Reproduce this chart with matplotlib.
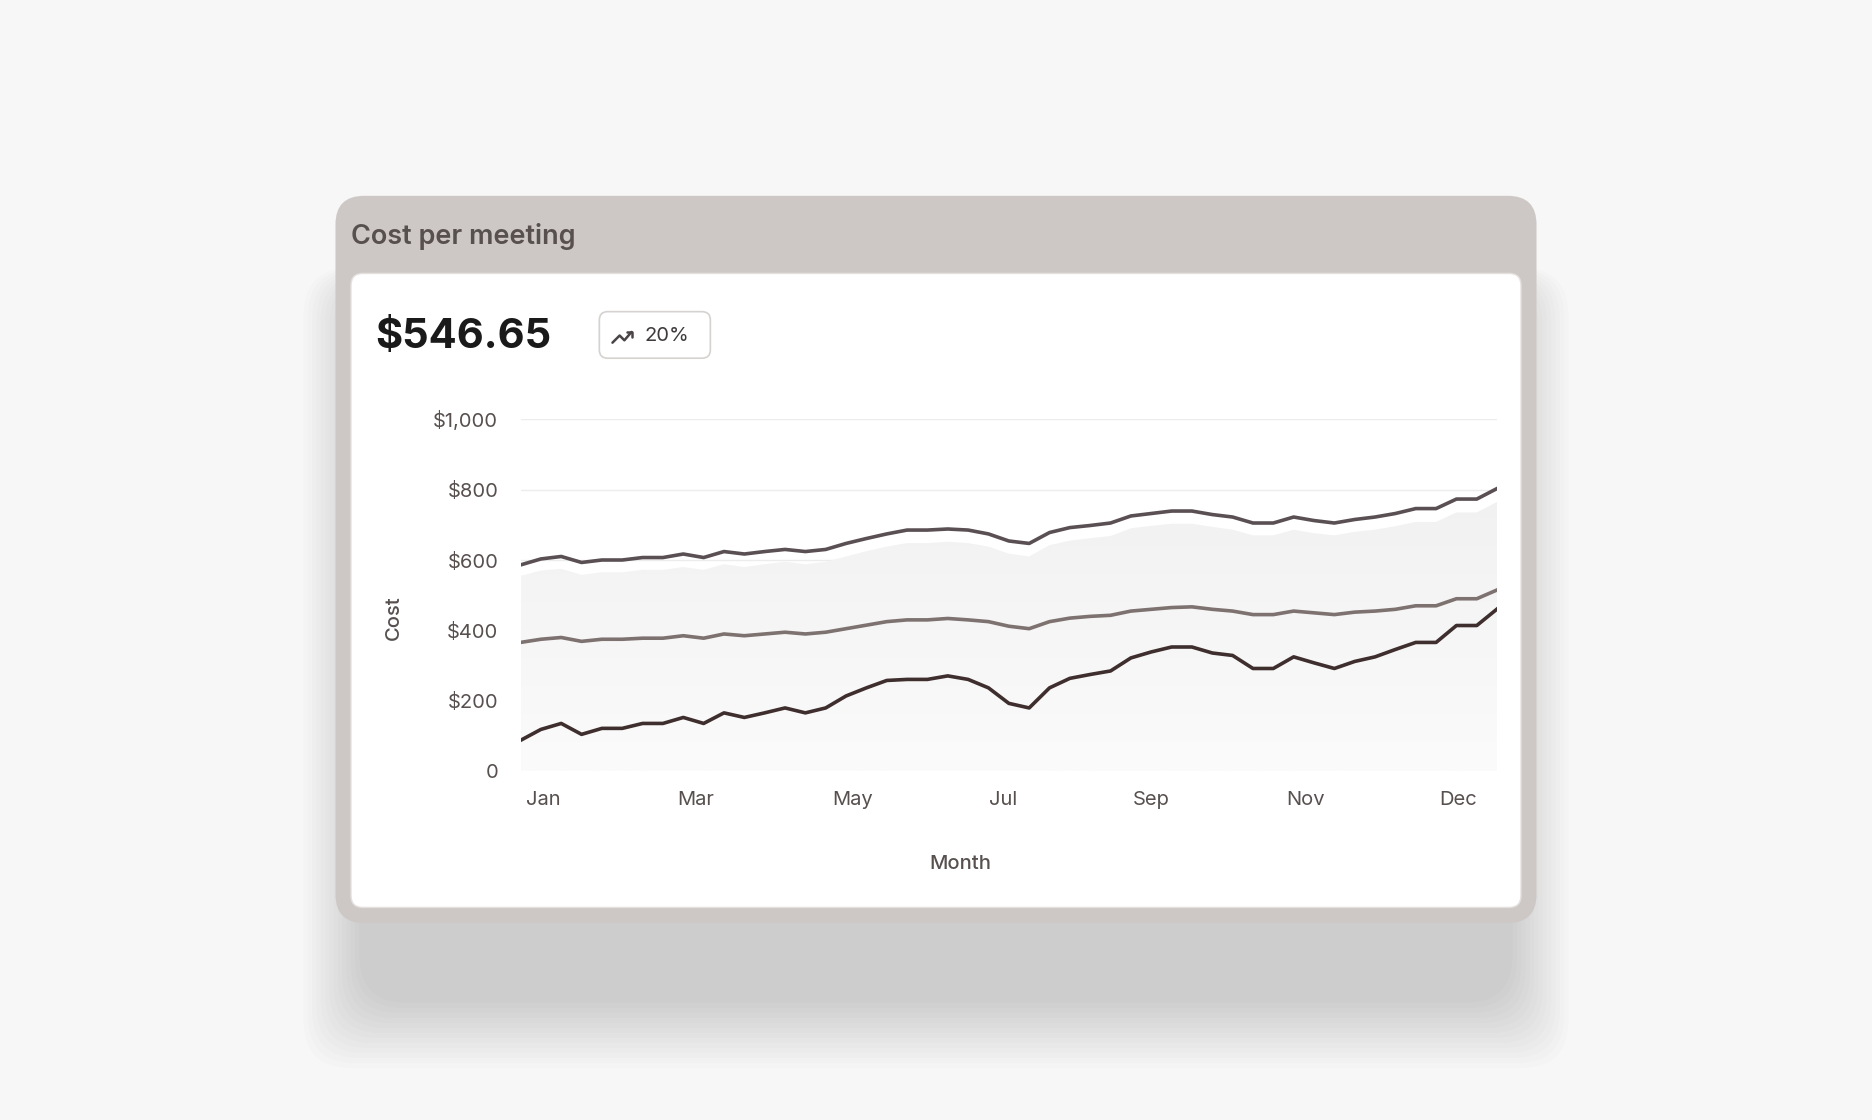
import matplotlib
matplotlib.use("Agg")
import matplotlib.pyplot as plt
import numpy as np
from matplotlib.patches import FancyBboxPatch

plt.rcParams['font.family'] = ['Inter', 'DejaVu Sans']

upper = [586,603,610,593,600,600,607,607,617,607,624,617,624,630,624,630,647,661,674,685,685,688,685,674,654,647,678,692,698,705,725,732,739,739,729,722,705,705,722,712,705,715,722,732,746,746,773,773,803]
middle = [366,375,380,369,375,375,378,378,385,378,390,385,390,395,390,395,405,415,425,430,430,434,430,425,412,405,425,435,440,443,455,460,465,467,460,455,445,445,455,450,445,452,455,460,470,470,490,490,515]
lower = [88,119,136,105,122,122,136,136,153,136,166,153,166,180,166,180,214,237,258,261,261,271,261,237,193,180,237,264,275,285,322,339,353,353,336,329,292,292,325,308,292,312,325,346,366,366,414,414,461]
band = [555,570,575,558,565,565,572,572,580,572,588,580,588,595,588,595,610,625,638,648,648,652,648,638,618,610,642,655,662,668,690,697,703,703,694,686,670,670,686,676,670,680,686,696,708,708,735,735,765]
month_labels = ["Jan", "Mar", "May", "Jul", "Sep", "Nov", "Dec"]
month_pos = [1.1, 8.6, 16.3, 23.7, 31.0, 38.6, 46.1]
y_ticks = [0, 200, 400, 600, 800, 1000]
y_labels = ["0", "$200", "$400", "$600", "$800", "$1,000"]

W, H = 1568, 938
fig = plt.figure(figsize=(18.72, 11.2), dpi=100)
fig.patch.set_facecolor('#f7f7f7')
bg = fig.add_axes([0, 0, 1, 1])
bg.set_xlim(0, W); bg.set_ylim(H, 0); bg.axis('off')

# shadow
for i in range(14):
    g = i * 6
    bg.add_patch(FancyBboxPatch((281 - g*0.6 + 20, 200 - g*0.2 + 40), 1006 + g*1.2 - 40, 600 + g*0.9,
                 boxstyle="round,pad=0,rounding_size=40", fc='#000000', ec='none', alpha=0.012, zorder=0))
bg.add_patch(FancyBboxPatch((281, 164), 1006, 609, boxstyle="round,pad=0,rounding_size=24",
             fc='#cdc8c5', ec='none', zorder=1))
bg.add_patch(FancyBboxPatch((294, 229), 980, 531, boxstyle="round,pad=0,rounding_size=10",
             fc='white', ec='#e4e0de', lw=1, zorder=2))
bg.text(294, 198, "Cost per meeting", fontsize=19.5, fontweight='semibold', color='#57504f', va='center', zorder=3)
bg.text(314, 282, "$546.65", fontsize=30, fontweight='bold', color='#1a1a1a', va='center', zorder=3)
bg.add_patch(FancyBboxPatch((502, 261), 93, 39, boxstyle="round,pad=0,rounding_size=7",
             fc='white', ec='#d6d2d0', lw=1.2, zorder=3))
bg.plot([513, 519, 523, 529], [287, 281, 285, 278], color='#4a4446', lw=1.8, zorder=4, solid_capstyle='round')
bg.plot([525, 529, 529], [278, 278, 282], color='#4a4446', lw=1.8, zorder=4, solid_capstyle='round')
bg.text(540, 281, "20%", fontsize=14.5, color='#3f3a3b', va='center', zorder=4)

ax = fig.add_axes([436/W, 1-646/H, (1254-436)/W, (646-351)/H])
ax.set_zorder(5)
ax.patch.set_alpha(0)
x = np.arange(len(upper))
ax.set_xlim(0, len(upper)-1)
ax.set_ylim(0, 1000)
# gradient fill under band
grad = np.linspace(0, 1, 256).reshape(-1, 1)
from matplotlib.colors import LinearSegmentedColormap
cm = LinearSegmentedColormap.from_list('g', ['#fbfbfb', '#f1f1f1'])
im = ax.imshow(grad, extent=[0, len(upper)-1, 0, 800], origin='lower', cmap=cm, aspect='auto', zorder=1)
poly = ax.fill_between(x, 0, band, color='none')
im.set_clip_path(poly.get_paths()[0], transform=ax.transData)
for yt in y_ticks:
    ax.axhline(yt, color='#ececec', lw=1, zorder=0.5)
ax.plot(x, upper, color='#5a5053', lw=2.6, zorder=3)
ax.plot(x, middle, color='#7d7270', lw=2.6, zorder=3)
ax.plot(x, lower, color='#3f2e2e', lw=2.6, zorder=3)
ax.set_yticks(y_ticks)
ax.set_yticklabels(y_labels)
ax.set_xticks(month_pos)
ax.set_xticklabels(month_labels)
for s in ax.spines.values():
    s.set_visible(False)
ax.tick_params(length=0, labelsize=14.5, labelcolor='#57504f')
ax.tick_params(axis='y', pad=16)
ax.tick_params(axis='x', pad=14)
bg.text(330, 517, "Cost", rotation=90, fontsize=14.5, color='#57504f', ha='center', va='center', fontweight='medium')
bg.text(804, 724, "Month", fontsize=14.5, color='#57504f', ha='center', va='center', fontweight='medium')

fig.savefig('out.png', dpi=100, facecolor=fig.get_facecolor())
